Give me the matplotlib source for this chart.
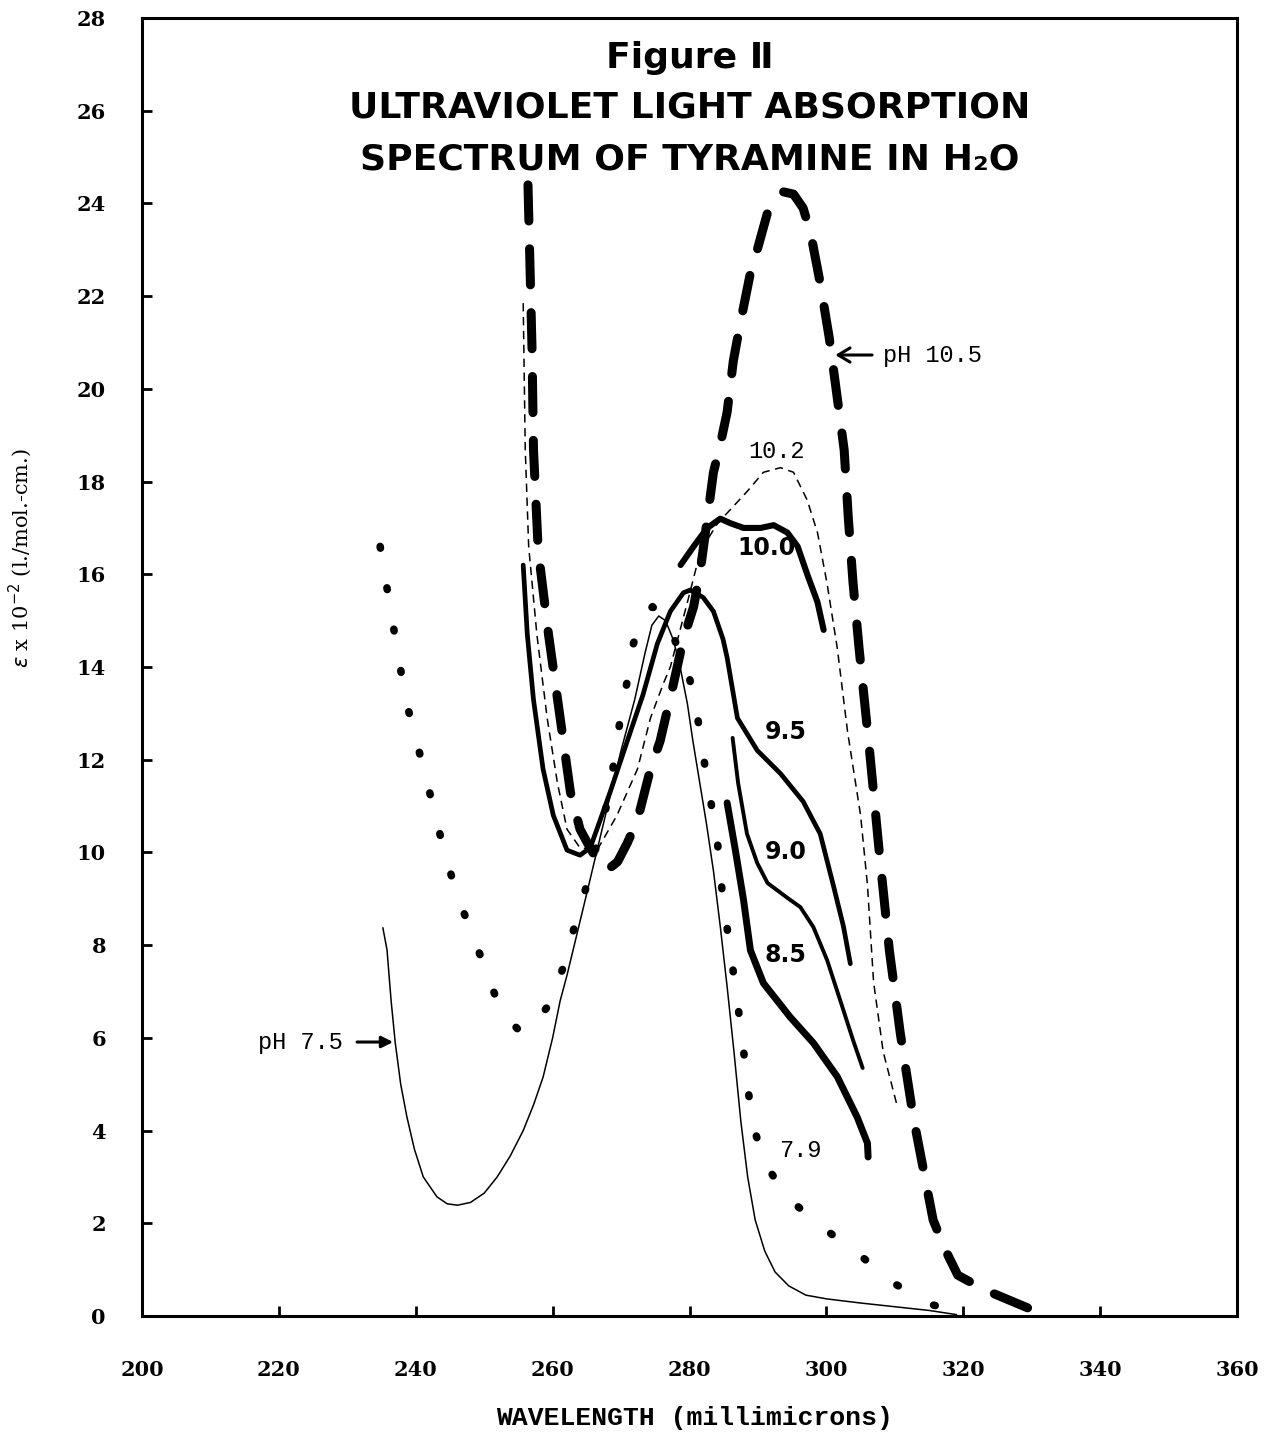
import matplotlib
matplotlib.use("Agg")
import matplotlib.pyplot as plt

plt.rcParams["lines.scale_dashes"] = False

W, H = 1276, 1433

# pH 10.5 (heavy dashes)
x_105 = [256.4, 257.0, 257.2, 257.9, 259.4, 261.1, 262.6, 264.0, 265.1, 266.5, 268.0, 269.5,
         270.9, 272.4, 274.3, 275.7, 277.6, 279.1, 280.6, 281.6, 282.6, 283.5, 284.5, 285.5,
         286.4, 287.4, 288.9, 289.9, 291.4, 292.8, 293.7, 295.2, 296.6, 297.7, 299.1, 300.4,
         301.3, 302.6, 303.2, 303.9, 304.8, 306.3, 307.7, 309.2, 310.8, 312.7, 315.6, 317.4,
         319.2, 323.2, 329.5]
y_105 = [24.4, 20.8, 18.7, 16.5, 14.7, 12.9, 11.3, 10.5, 10.2, 9.84, 9.62, 9.8,
         10.2, 10.7, 11.8, 12.4, 13.6, 14.6, 15.3, 16.1, 17.2, 18.2, 18.8, 19.5,
         20.6, 21.4, 22.5, 23.0, 23.8, 24.1, 24.25, 24.2, 23.9, 23.36, 22.28, 21.12,
         20.13, 18.68, 17.23, 15.81, 14.37, 12.21, 10.05, 7.89, 6.10, 4.29, 2.07, 1.42,
         0.88, 0.56, 0.17]

# pH 10.2 (thin dashes)
x_102 = [255.7, 256.0, 256.5, 257.7, 259.2, 260.7, 262.1, 264.0, 266.5, 269.4, 272.4,
         274.3, 276.2, 277.2, 279.7, 281.6, 284.1, 286.0, 288.5, 290.8, 293.3, 295.2, 297.2,
         298.7, 300.1, 301.6, 303.1, 305.0, 306.0, 306.9, 308.3, 310.4]
y_102 = [21.85, 18.7, 16.6, 14.7, 12.9, 11.5, 10.5, 10.1, 10.05, 10.8, 11.8,
         12.9, 13.65, 14.0, 15.4, 16.5, 17.1, 17.4, 17.8, 18.2, 18.3, 18.2, 17.6,
         16.9, 15.8, 14.4, 12.6, 10.8, 9.3, 7.2, 5.7, 4.5]

# pH 10.0
x_100 = [278.7, 280.6, 282.6, 284.5, 286.0, 287.9, 290.4, 292.3, 294.3, 295.8, 297.2, 298.7, 299.6]
y_100 = [16.2, 16.6, 17.0, 17.2, 17.1, 17.0, 17.0, 17.06, 16.9, 16.6, 16.0, 15.4, 14.8]

# pH 9.5
x_95 = [255.7, 256.3, 257.2, 258.6, 260.1, 262.1, 264.0, 265.5, 268.4, 270.9, 273.2, 275.3,
        277.2, 279.1, 280.1, 282.0, 283.5, 284.9, 285.5, 287.0, 289.9, 293.3, 296.6, 299.1,
        301.0, 302.5, 303.5]
y_95 = [16.2, 14.7, 13.3, 11.8, 10.8, 10.05, 9.94, 10.1, 11.3, 12.4, 13.4, 14.5,
        15.2, 15.6, 15.66, 15.5, 15.2, 14.6, 14.2, 12.9, 12.2, 11.7, 11.1, 10.4,
        9.3, 8.4, 7.6]

# pH 9.0
x_90 = [286.3, 287.1, 288.4, 289.9, 291.4, 294.3, 296.2, 298.1, 300.1, 302.0, 303.9, 305.3]
y_90 = [12.47, 11.5, 10.4, 9.77, 9.34, 9.02, 8.82, 8.39, 7.68, 6.82, 5.95, 5.35]

# pH 8.5
x_85 = [285.5, 286.7, 287.9, 288.9, 290.8, 294.7, 298.1, 301.6, 304.5, 306.0, 306.1]
y_85 = [11.07, 10.05, 8.97, 7.89, 7.18, 6.45, 5.89, 5.16, 4.29, 3.73, 3.43]

# pH 7.9 (dotted)
x_79 = [234.8, 235.8, 236.7, 237.6, 238.7, 240.1, 241.7, 243.0, 244.4, 246.2, 248.4, 250.1,
        251.9, 253.5, 255.5, 257.3, 259.4, 261.5, 263.2, 264.8, 266.5, 268.2, 269.9, 270.9,
        271.8, 273.2, 274.6, 276.0, 277.5, 279.8, 281.1, 282.0, 283.0, 284.1, 284.8, 285.8,
        286.7, 287.7, 288.4, 289.3, 291.1, 294.7, 299.9, 305.0, 309.8, 315.5, 319.6]
y_79 = [16.6, 15.7, 14.9, 14.1, 13.2, 12.4, 11.5, 10.7, 9.9, 9.0, 8.2, 7.5,
        6.8, 6.4, 6.1, 6.3, 6.7, 7.5, 8.4, 9.2, 10.2, 11.2, 12.9, 13.7,
        14.5, 15.1, 15.3, 15.1, 14.7, 13.9, 13.0, 12.1, 11.2, 10.2, 9.1, 8.05,
        7.1, 6.0, 5.05, 4.1, 3.26, 2.5, 1.86, 1.3, 0.71, 0.24, 0.09]

# pH 7.5 (thin)
x_75 = [235.2, 235.8, 236.4, 237.0, 237.8, 238.7, 239.8, 241.1, 243.1, 244.6, 246.1, 248.0,
        250.0, 251.9, 253.8, 255.7, 257.2, 258.6, 260.0, 261.1, 262.1, 263.0, 264.8, 266.5,
        268.2, 270.0, 272.0, 273.5, 274.5, 275.5, 276.5, 277.6, 278.5, 279.7, 280.5, 281.5,
        282.5, 283.5, 284.5, 285.5, 286.5, 287.5, 288.5, 289.6, 291.0, 292.5, 294.5, 297.0,
        300.0, 305.0, 310.0, 315.0, 319.0]
y_75 = [8.37, 7.9, 6.8, 5.9, 5.0, 4.3, 3.6, 3.0, 2.57, 2.42, 2.39, 2.45,
        2.65, 3.0, 3.45, 4.0, 4.55, 5.15, 6.0, 6.8, 7.35, 7.9, 9.0, 10.05,
        11.1, 12.2, 13.3, 14.3, 14.9, 15.1, 15.0, 14.6, 14.1, 13.2, 12.4, 11.5,
        10.6, 9.6, 8.4, 7.1, 5.7, 4.2, 3.0, 2.07, 1.4, 0.95, 0.65, 0.45,
        0.37, 0.28, 0.2, 0.12, 0.03]

x_ticks = list(range(200, 361, 20))
y_ticks = list(range(0, 29, 2))

fig = plt.figure(figsize=(W / 100, H / 100), dpi=100)
ax = fig.add_axes([142 / W, 1 - 1316 / H, (1237 - 142) / W, (1316 - 18) / H])

ax.plot(x_105, y_105, color="black", lw=6.5, dashes=(26, 20), dash_capstyle="round",
        solid_joinstyle="round")
ax.plot(x_102, y_102, color="black", lw=1.1, dashes=(6, 4))
ax.plot(x_100, y_100, color="black", lw=4.4, solid_capstyle="round")
ax.plot(x_95, y_95, color="black", lw=3.4, solid_capstyle="round")
ax.plot(x_90, y_90, color="black", lw=2.8, solid_capstyle="round")
ax.plot(x_85, y_85, color="black", lw=5.0, solid_capstyle="round")
ax.plot(x_79, y_79, color="black", lw=5.5, dashes=(1.2, 29), dash_capstyle="round")
ax.plot(x_75, y_75, color="black", lw=1.1)

ax.set_xlim(200, 360)
ax.set_ylim(0, 28)
ax.set_xticks(x_ticks)
ax.set_yticks(y_ticks)
for s in ax.spines.values():
    s.set_linewidth(2.2)
ax.tick_params(direction="in", length=7, width=2)
ax.tick_params(axis="x", pad=32)
ax.tick_params(axis="y", pad=26)
for lab in ax.get_xticklabels() + ax.get_yticklabels():
    lab.set_fontfamily("DejaVu Serif")
    lab.set_fontweight("bold")
    lab.set_fontsize(15)

mono = "Liberation Mono"
bold_sans = dict(fontsize=17, family="DejaVu Sans", weight="bold", ha="center", va="center")
ax.text(292.7, 18.64, "10.2", fontsize=17, family=mono, ha="center", va="center")
ax.text(291.2, 16.57, "10.0", **bold_sans)
ax.text(294.0, 12.6, "9.5", **bold_sans)
ax.text(294.0, 10.0, "9.0", **bold_sans)
ax.text(294.0, 7.79, "8.5", **bold_sans)
ax.text(296.2, 3.58, "7.9", fontsize=17, family=mono, ha="center", va="center")

ax.annotate("pH 10.5", xy=(301.3, 20.73), xytext=(308.3, 20.73), fontsize=17, family=mono,
            ha="left", va="center",
            arrowprops=dict(arrowstyle="->,head_length=0.5,head_width=0.3", color="black",
                            lw=2.2, shrinkA=6, shrinkB=0))
ax.annotate("pH 7.5", xy=(236.7, 5.91), xytext=(229.4, 5.91), fontsize=17, family=mono,
            ha="right", va="center",
            arrowprops=dict(arrowstyle="-|>", color="black", lw=2.2, shrinkA=8, shrinkB=0))

tfont = dict(family="DejaVu Sans", weight="bold", fontsize=26, ha="center", va="center")
fig.text(690 / W, 1 - 58 / H, "Figure Ⅱ", **tfont)
fig.text(690 / W, 1 - 108 / H, "ULTRAVIOLET LIGHT ABSORPTION", **tfont)
fig.text(690 / W, 1 - 160 / H, "SPECTRUM OF TYRAMINE IN H₂O", **tfont)

fig.text(694 / W, 1 - 1418 / H, "WAVELENGTH (millimicrons)", family=mono, weight="bold",
         fontsize=19, ha="center", va="center")
fig.text(20 / W, 1 - 558 / H, r"$\epsilon$ x 10$^{-2}$ (l./mol.-cm.)", family="DejaVu Serif",
         fontsize=15, rotation=90, ha="center", va="center")

fig.savefig("out.png", dpi=100)
